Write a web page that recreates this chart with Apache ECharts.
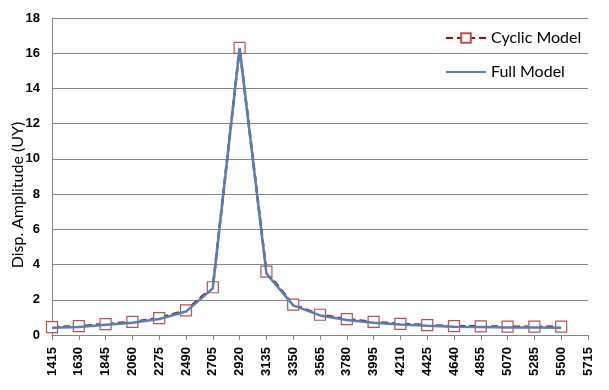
<!DOCTYPE html>
<html>
<head>
<meta charset="utf-8">
<script src="https://cdn.jsdelivr.net/npm/echarts@6/dist/echarts.min.js"></script>
<style>html,body{margin:0;padding:0;background:#fff}#c{width:609px;height:390px}</style>
</head>
<body>
<div id="c"></div>
<script>
var categories = ['1415','1630','1845','2060','2275','2490','2705','2920','3135','3350','3565','3780','3995','4210','4425','4640','4855','5070','5285','5500','5715'];
var cyclicModel = [0.45,0.5,0.62,0.74,0.96,1.4,2.71,16.3,3.6,1.72,1.15,0.9,0.74,0.63,0.56,0.5,0.49,0.47,0.47,0.47];
var fullModel = [0.41,0.46,0.58,0.7,0.91,1.33,2.65,16.3,3.5,1.68,1.11,0.85,0.7,0.6,0.52,0.47,0.45,0.42,0.42,0.41];
var yTicks = {min: 0, max: 18, interval: 2};
var yTitle = 'Disp. Amplitude (UY)';

var chart = echarts.init(document.getElementById('c'), null, {renderer: 'canvas'});
var gray = '#868686';
chart.setOption({
  animation: false,
  backgroundColor: '#fff',
  grid: {left: 52, right: 21, top: 18, bottom: 55, containLabel: false, outerBoundsMode: 'none'},
  graphic: [{
    type: 'text',
    x: 18,
    y: 195,
    rotation: Math.PI / 2,
    style: {text: yTitle, fontFamily: 'Lato', fontSize: 16, fill: '#000', align: 'center', verticalAlign: 'middle'}
  }],
  legend: {
    orient: 'vertical',
    left: 445,
    top: 30,
    padding: 0,
    itemWidth: 40,
    itemHeight: 12,
    itemGap: 18,
    textStyle: {fontFamily: 'Lato', fontSize: 16, color: '#000'},
    data: ['Cyclic Model', {name: 'Full Model', itemStyle: {opacity: 0}}]
  },
  xAxis: {
    type: 'category',
    data: categories,
    boundaryGap: false,
    axisLine: {lineStyle: {color: gray, width: 1}},
    axisTick: {show: true, alignWithLabel: true, length: 5, lineStyle: {color: gray}},
    axisLabel: {rotate: 90, interval: 0, margin: 12, fontFamily: 'Liberation Sans', fontWeight: 'bold', fontSize: 13, color: '#000'},
    splitLine: {show: false}
  },
  yAxis: {
    type: 'value',
    min: yTicks.min, max: yTicks.max, interval: yTicks.interval,
    axisLine: {show: true, lineStyle: {color: gray, width: 1}},
    axisTick: {show: false},
    axisLabel: {margin: 12, fontFamily: 'Liberation Sans', fontWeight: 'bold', fontSize: 13, color: '#000'},
    splitLine: {show: true, lineStyle: {color: gray, width: 1}}
  },
  series: [
    {
      name: 'Cyclic Model',
      type: 'line',
      data: cyclicModel,
      symbol: 'rect',
      symbolSize: 11,
      showAllSymbol: true,
      itemStyle: {color: '#fff', borderColor: '#C0504D', borderWidth: 1.2},
      lineStyle: {color: '#C00000', width: 2.5, type: [7, 4]},
      z: 2
    },
    {
      name: 'Full Model',
      type: 'line',
      data: fullModel,
      symbol: 'none',
      itemStyle: {color: '#4F81BD'},
      lineStyle: {color: '#4F81BD', width: 2.5},
      z: 3
    }
  ]
});
</script>
</body>
</html>
